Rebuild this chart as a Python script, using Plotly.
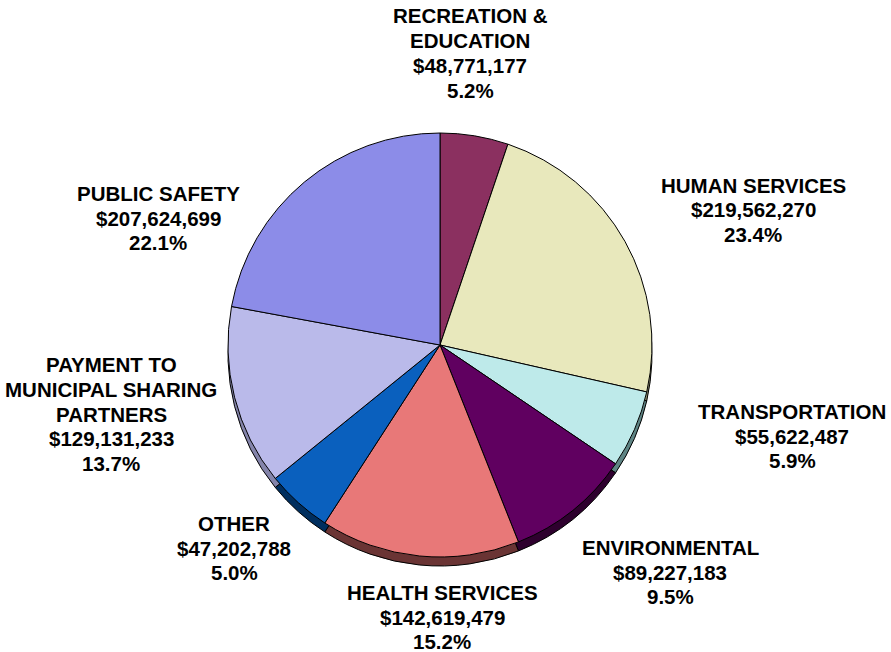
import plotly.graph_objects as go

# Budget categories, clockwise from 12 o'clock
categories = [
    "RECREATION &<br>EDUCATION",
    "HUMAN SERVICES",
    "TRANSPORTATION",
    "ENVIRONMENTAL",
    "HEALTH SERVICES",
    "OTHER",
    "PAYMENT TO<br>MUNICIPAL SHARING<br>PARTNERS",
    "PUBLIC SAFETY",
]
amounts = [48771177, 219562270, 55622487, 89227183, 142619479, 47202788, 129131233, 207624699]

top_colors = ["#8B3060", "#E8E8BC", "#BEEAEA", "#600060", "#E87878", "#0A60BE", "#BABAEA", "#8C8CE8"]
side_colors = ["#4A1832", "#8A8A6A", "#5E8484", "#2E002E", "#6A3434", "#002E5E", "#8484AA", "#5454A0"]

# label block centres in pixels (x, y) on an 891x652 canvas
label_pos = [(470, 53), (753, 210), (792, 436), (670, 572), (442, 617), (234, 548), (111, 414), (158, 218)]
line_gap = 24.8

W, H = 891, 652
cx, cy, r, depth = 440, 345, 212, 9

total = sum(amounts)


def dom(shift):
    return dict(
        x=[(cx - r) / W, (cx + r) / W],
        y=[1 - (cy + r + shift) / H, 1 - (cy - r + shift) / H],
    )


fig = go.Figure()

# side wall: same pie drawn lower in darker shades
fig.add_trace(go.Pie(
    values=amounts, labels=categories, sort=False, direction="clockwise", rotation=0,
    marker=dict(colors=side_colors, line=dict(color="black", width=1)),
    textinfo="none", hoverinfo="skip", showlegend=False, domain=dom(depth),
))

# top face
fig.add_trace(go.Pie(
    values=amounts, labels=categories, sort=False, direction="clockwise", rotation=0,
    marker=dict(colors=top_colors, line=dict(color="black", width=1)),
    textinfo="none", hoverinfo="label+value+percent", showlegend=False, domain=dom(0),
))

# labels: one annotation per line so the spacing stays tight
annotations = []
for name, val, (px, py) in zip(categories, amounts, label_pos):
    pct = val / total * 100
    lines = name.split("<br>") + [f"${val:,}", f"{pct:.1f}%"]
    n = len(lines)
    for i, ln in enumerate(lines):
        ly = py + (i - (n - 1) / 2) * line_gap
        annotations.append(dict(
            text=f"<b>{ln}</b>",
            x=px / W, y=1 - ly / H, xref="paper", yref="paper",
            xanchor="center", yanchor="middle", showarrow=False, align="center",
            font=dict(family="Liberation Sans, Arial, sans-serif", size=20.5, color="black"),
        ))

fig.update_layout(
    width=W, height=H,
    margin=dict(l=0, r=0, t=0, b=0),
    paper_bgcolor="white", plot_bgcolor="white",
    annotations=annotations,
)

fig.write_html("out.html")
